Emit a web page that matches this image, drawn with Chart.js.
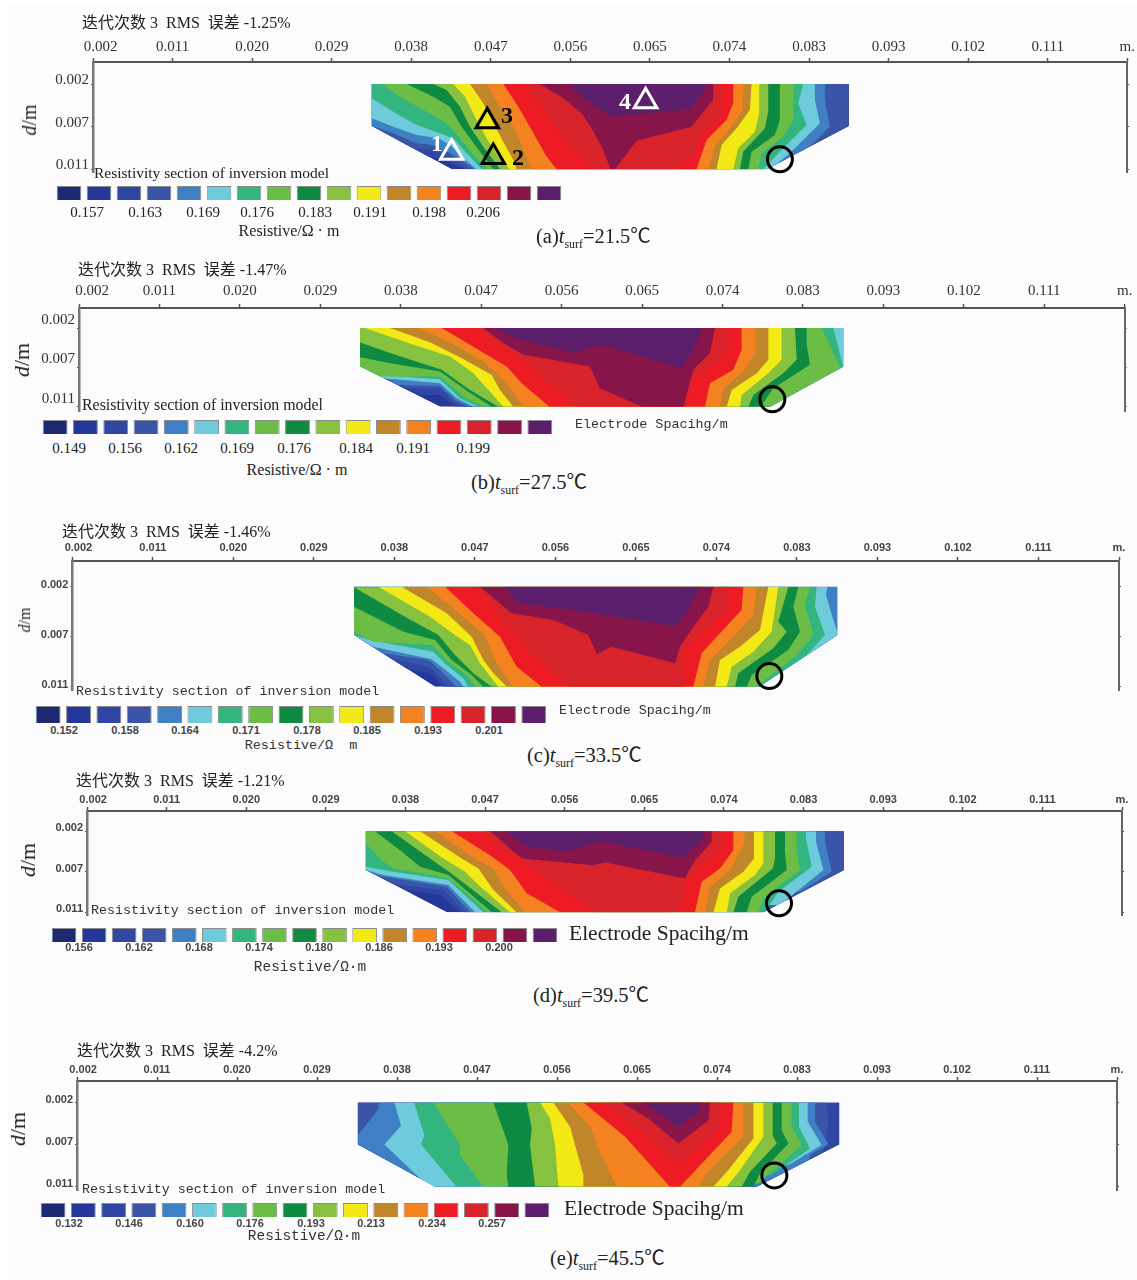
<!DOCTYPE html>
<html><head><meta charset="utf-8">
<script src="https://cdn.jsdelivr.net/npm/chart.js@4"></script>
<style>
html,body{margin:0;padding:0;background:#fff}
#page{position:relative;width:1137px;height:1280px;overflow:hidden}
#paper{position:absolute;left:8px;top:5px;right:0;bottom:0;background:#fcfcfc}
canvas{position:absolute}
.t{position:absolute;white-space:pre;line-height:1;color:#222}
.serif{font-family:"Liberation Serif","Noto Sans CJK SC",serif}
.mono{font-family:"Liberation Mono","DejaVu Sans Mono",monospace;color:#333}
.bold{font-family:"Liberation Sans",sans-serif;font-weight:700;color:#444}
sub{font-size:.58em;line-height:0}
</style></head><body><div id="page"><div id="paper"></div></div>
<script>
// ---------- data ----------
const xTickLabels = ['0.002','0.011','0.020','0.029','0.038','0.047','0.056','0.065','0.074','0.083','0.093','0.102','0.111','m.'];
const yTickLabels = ['0.002','0.007','0.011'];
const palette = ['#1d2a72','#24379a','#2f46a3','#3a55a8','#3f7fc4','#6ecbdc','#33b57f','#6cbd45','#0f8a42','#86c13f','#f2e916','#c2862a','#f58220','#ed1c24','#d8232a','#87154a','#5c1f6b'];

const legendA = ['0.157','0.163','0.169','0.176','0.183','0.191','0.198','0.206'];
const legendB = ['0.149','0.156','0.162','0.169','0.176','0.184','0.191','0.199'];
const legendC = ['0.152','0.158','0.164','0.171','0.178','0.185','0.193','0.201'];
const legendD = ['0.156','0.162','0.168','0.174','0.180','0.186','0.193','0.200'];
const legendE = ['0.132','0.146','0.160','0.176','0.193','0.213','0.234','0.257'];

// Nested resistivity regions: each list is one closed contour, as (along, down) pairs in
// section units (240 units = one electrode spacing). Region i and everything inside it is >= level i+1.
const bandsA = [
[0,0,1432,0,1432,126,1185,256,240,256,0,126],
[0,0,0,126,165,216,215,228,280,256,1432,256,1432,0],
[0,0,0,126,115,191,190,198,225,223,295,256,1432,256,1432,0],
[0,0,0,126,65,148,135,178,185,183,235,208,310,256,1245,256,1375,128,1360,48,1360,0],
[0,0,0,103,65,128,135,153,200,163,235,183,275,223,315,256,1195,256,1255,208,1345,118,1330,48,1330,0],
[0,0,0,43,65,83,135,123,205,148,245,163,285,208,330,256,1175,256,1225,203,1305,123,1280,58,1295,0],
[30,0,85,38,165,83,225,118,265,163,305,213,350,256,1160,256,1170,208,1235,158,1265,108,1265,0],
[105,0,185,38,235,68,270,128,310,183,365,256,1130,256,1140,203,1210,153,1225,108,1225,0],
[185,0,225,18,265,68,295,128,335,188,385,256,1105,256,1115,203,1180,133,1190,83,1190,0],
[245,0,280,38,310,98,345,163,380,218,415,256,1085,256,1100,193,1150,143,1163,88,1163,0],
[295,0,335,58,365,118,395,173,425,228,435,256,1035,256,1050,183,1095,133,1135,78,1140,0],
[345,0,385,68,425,128,450,183,480,256,1010,256,1030,183,1065,148,1113,78,1115,0],
[395,0,440,68,480,138,525,218,555,256,975,256,1005,168,1065,108,1085,58,1085,0],
[455,0,505,58,555,138,615,208,675,256,910,256,970,208,985,158,1050,88,1050,0],
[505,0,575,43,630,88,660,133,695,198,717,256,730,256,795,170,960,128,1000,78,1025,48,1025,0],
[595,0,630,38,717,98,835,88,955,76,1000,18,1000,0]
];
const bandsB = [
[0,0,1450,0,1450,115,1230,235,240,235,0,115],
[0,0,0,115,180,200,240,200,270,225,285,235,1450,235,1450,0],
[0,0,0,115,140,180,240,180,280,220,310,235,1450,235,1450,0],
[0,0,0,115,115,170,240,173,285,215,325,235,1450,235,1450,0],
[0,0,0,115,70,150,240,165,290,210,340,235,1450,235,1450,0],
[0,0,0,115,50,140,240,153,300,210,355,235,1300,235,1450,117,1420,0],
[0,0,0,115,60,145,240,145,310,205,370,235,1340,235,1440,117,1385,0],
[0,0,0,87,90,105,240,130,325,190,395,235,1202,235,1240,180,1350,110,1340,50,1340,0],
[0,0,0,43,90,75,245,125,330,185,415,235,1165,235,1180,200,1270,135,1310,95,1305,0],
[15,0,160,50,270,85,340,135,390,190,430,235,1140,235,1145,200,1225,135,1265,95,1265,0],
[90,0,215,45,305,90,350,115,395,140,420,185,460,235,1100,235,1115,185,1190,135,1225,95,1225,0],
[175,0,285,50,370,100,435,160,490,235,1080,235,1090,180,1150,130,1185,75,1185,0],
[245,0,330,50,440,115,485,165,568,235,1035,235,1050,165,1120,125,1145,65,1145,0],
[350,0,410,45,480,85,540,145,650,235,980,235,995,155,1065,105,1105,55,1105,0],
[370,0,430,45,490,80,690,115,720,180,845,235,970,235,1000,125,1050,75,1065,0],
[410,0,460,30,640,73,725,50,965,120,1000,65,1025,5,1025,0]
];
const bandsC = [
[0,0,1450,0,1450,145,1215,300,243,300,0,145],
[0,0,0,145,148,245,228,260,268,300,1450,300,1450,0],
[0,0,0,145,108,215,228,242,283,300,1450,300,1450,0],
[0,0,0,145,88,200,223,220,258,250,308,300,1450,300,1450,0],
[0,0,0,145,58,180,233,218,268,245,318,285,328,300,1248,300,1453,145,1438,100,1416,25,1420,0],
[0,0,0,145,38,158,238,195,278,235,328,275,343,300,1218,300,1358,205,1413,145,1383,60,1388,0],
[0,0,0,135,58,165,233,175,283,225,343,270,363,300,1208,300,1328,205,1378,145,1353,55,1368,0],
[0,0,0,60,148,135,243,160,293,220,353,265,388,300,1178,300,1193,265,1303,190,1338,135,1318,60,1333,0],
[0,2,153,90,253,145,303,205,358,260,413,300,1143,300,1153,260,1258,185,1298,135,1273,105,1303,0],
[73,0,228,90,303,145,348,175,378,230,433,300,1118,300,1133,240,1198,195,1253,135,1273,0],
[143,0,278,80,353,150,388,220,418,260,458,300,1083,300,1098,220,1158,180,1218,130,1243,0],
[218,0,328,90,393,145,423,220,478,300,1048,300,1068,220,1123,165,1198,85,1208,0],
[273,0,358,80,438,150,488,240,563,300,1018,300,1043,200,1098,140,1163,70,1168,0],
[368,0,413,55,478,140,558,230,648,300,988,300,993,185,1058,125,1118,70,1123,0],
[378,0,473,80,598,100,703,145,728,202,773,180,963,230,978,180,1018,120,1063,60,1078,0],
[453,0,488,50,598,62,963,118,1003,70,1038,0]
];
const bandsD = [
[0,0,1435,0,1435,117,1193,244,243,244,0,117],
[0,0,0,117,123,177,223,192,283,244,1435,244,1435,0],
[0,0,0,117,73,157,233,177,298,244,1435,244,1435,0],
[0,0,0,117,23,132,243,167,313,244,1303,182,1398,122,1378,32,1378,0],
[0,0,0,117,53,132,248,162,328,244,1243,222,1373,117,1351,32,1351,0],
[0,0,0,107,83,122,248,147,353,244,1198,244,1238,182,1338,107,1321,22,1321,0],
[0,0,0,37,53,92,83,112,173,127,248,142,368,244,1178,244,1198,197,1303,117,1293,62,1293,0],
[28,0,103,57,163,107,248,132,378,244,1143,244,1158,197,1263,117,1258,62,1258,0],
[78,0,193,82,263,132,408,244,1103,244,1118,197,1221,112,1228,82,1228,0],
[118,0,233,82,298,122,338,162,433,244,1083,244,1093,187,1168,132,1193,97,1193,0],
[163,0,288,82,338,112,383,177,453,244,1043,244,1063,172,1133,122,1165,82,1165,0],
[208,0,328,82,383,112,418,172,478,244,1018,244,1033,167,1093,117,1133,42,1138,0],
[258,0,373,72,433,117,483,187,583,244,988,244,1008,152,1063,112,1103,57,1103,0],
[353,0,403,52,468,85,553,150,688,244,913,244,953,222,963,147,1018,92,1068,52,1068,0],
[373,0,468,82,683,102,718,94,958,142,988,87,1038,32,1038,0],
[423,0,473,42,593,62,713,32,953,80,1013,22,1013,0]
];
const bandsE = [
[0,0,1445,0,1445,126,1197,253,232,253,0,126],
[0,0,1445,0,1445,126,1197,253,232,253,0,126],
[0,0,0,126,232,253,1370,253,1402,128,1412,68,1407,0],
[62,0,62,20,0,100,0,126,232,253,1340,253,1357,158,1412,126,1372,58,1372,0],
[110,0,130,70,80,126,182,223,232,268,1292,188,1392,128,1350,58,1350,0],
[169,0,200,98,190,126,297,253,1242,218,1357,138,1324,73,1324,0],
[227,0,307,128,307,158,377,253,1202,243,1332,128,1302,73,1302,0],
[407,0,452,128,447,218,452,253,1187,253,1207,213,1292,123,1272,83,1272,0],
[507,0,522,78,517,128,532,253,1152,253,1177,208,1257,123,1245,98,1245,0],
[547,0,577,48,592,128,602,253,1107,253,1147,203,1217,103,1217,0],
[587,0,637,73,652,128,677,218,677,253,1067,253,1112,203,1187,108,1187,0],
[632,0,702,78,722,138,777,253,1022,253,1047,213,1157,103,1157,0],
[677,0,802,103,937,253,967,253,1122,88,1127,0],
[732,0,852,88,962,183,1087,78,1087,0],
[792,0,872,48,962,123,1052,53,1057,0],
[857,0,962,73,1024,28,1024,0]
];
const circleA=[1225,226], circleB=[1237,213], circleC=[1246,268], circleD=[1240,217], circleE=[1250,219];
const whiteTrianglesA=[[240,206],[822,52]];
const blackTrianglesA=[[365,219],[347,112]];

// ---------- layout ----------
const panels = [
 {bands:bandsA,circle:circleA,axisY:62,x0:93,x13:1127.5,left:371.7,top:84,bottom:169.3,endY:172,wide:1432,deep:256,off:-4,skew:4,xPad:2,cls:'serif',
  legend:legendA,barX:57,barY:187,barH:12.5,barStep:30,lx:[87,145,203,257,315,370,429,483],ly:212,
  title:['迭代次数 3  RMS  误差 -1.25%',82,23,16],dm:[29,120,20],sec:['serif',94,173,15.5],res:['Resistive/Ω · m','serif',289,231,16],cap:['a','21.5',536,236],elec:null},
 {bands:bandsB,circle:circleB,axisY:308,x0:79,x13:1124.7,left:360,top:328,bottom:406.7,endY:411,wide:1450,deep:235,off:-8,skew:7,xPad:4,cls:'serif',
  legend:legendB,barX:43,barY:421,barH:12.5,barStep:30.3,lx:[69,125,181,237,294,356,413,473],ly:448,
  title:['迭代次数 3  RMS  误差 -1.47%',78,270,16],dm:[22,360,22],sec:['serif',82,405,15.9],res:['Resistive/Ω · m','serif',297,470,16],cap:['b','27.5',471,482],elec:['mono',575,425,13.4]},
 {bands:bandsC,circle:circleC,axisY:561,x0:72.3,x13:1119,left:354,top:586.7,bottom:686.7,endY:690,wide:1450,deep:300,off:-2,skew:2,xPad:2,cls:'bold',
  legend:legendC,barX:36,barY:707,barH:15,barStep:30.35,lx:[64,125,185,246,307,367,428,489],ly:730,
  title:['迭代次数 3  RMS  误差 -1.46%',62,532,16],dm:[25,620,16],sec:['mono',76,692,13.3],res:['Resistive/Ω  m','mono',301,746,13.4],cap:['c','33.5',527,755],elec:['mono',559,711,13.3]},
 {bands:bandsD,circle:circleD,axisY:810.7,x0:87,x13:1122,left:365.7,top:831,bottom:912.3,endY:915,wide:1435,deep:244,off:-3,skew:2,xPad:0,cls:'bold',
  legend:legendD,barX:51.7,barY:928.7,barH:12,barStep:30.04,lx:[79,139,199,259,319,379,439,499],ly:947,
  title:['迭代次数 3  RMS  误差 -1.21%',76,781,16],dm:[28,860,22],sec:['mono',91,911,13.3],res:['Resistive/Ω·m','mono',310,967,14.4],cap:['d','39.5',533,995],elec:['serif',569,934,21.5]},
 {bands:bandsE,circle:circleE,axisY:1080.7,x0:77,x13:1117,left:357.7,top:1102.3,bottom:1186.7,endY:1190,wide:1445,deep:253,off:-3,skew:2,xPad:0,cls:'bold',
  legend:legendE,barX:41,barY:1204,barH:12,barStep:30.26,lx:[69,129,190,250,311,371,432,492],ly:1223,
  title:['迭代次数 3  RMS  误差 -4.2%',77,1051,16],dm:[18,1129,22],sec:['mono',82,1190,13.3],res:['Resistive/Ω·m','mono',304,1236,14.4],cap:['e','45.5',550,1258],elec:['serif',564,1209,21.5]}
];
const page=document.getElementById('page');
function text(html,x,y,cls,size,center){
  const d=document.createElement('div');d.className='t '+cls;d.innerHTML=html;
  d.style.left=x+'px';d.style.top=y+'px';d.style.fontSize=size+'px';
  d.style.transform=center?'translate(-50%,-50%)':'translateY(-50%)';
  page.appendChild(d);return d;
}
// fills each nested contour using the pixel positions the chart's scales computed
const sectionFill={id:'sectionFill',beforeDatasetsDraw(chart){
  const c=chart.ctx;
  const path=(pts)=>{c.beginPath();pts.forEach((p,i)=>i?c.lineTo(p.x,p.y):c.moveTo(p.x,p.y));c.closePath();};
  const outline=chart.getDatasetMeta(0).data;
  c.save();path(outline);c.clip();
  chart.data.datasets.forEach((ds,i)=>{
    if(!ds.isBand)return;
    path(chart.getDatasetMeta(i).data);c.fillStyle=ds.bandColor;c.fill();
  });
  c.restore();
}};
panels.forEach(p=>{
  const step=(p.x13-p.x0)/13, cellY=(p.bottom-p.top)/2;
  const toX=u=>(p.left-p.x0)/step+(u/3)/step;
  const toY=v=>(v/p.deep)*2;
  const pair=a=>({x:toX(a[0]),y:toY(a[1])});
  const datasets=p.bands.map((flat,i)=>{
    const pts=[];for(let k=0;k<flat.length;k+=2)pts.push(pair([flat[k],flat[k+1]]));
    return {isBand:true,bandColor:palette[i+1],data:pts,showLine:false,pointRadius:0,pointHoverRadius:0};
  });
  datasets.push({data:[pair(p.circle)],clip:false,showLine:false,pointStyle:'circle',pointRadius:12.5,borderColor:'#000',borderWidth:3,backgroundColor:'rgba(0,0,0,0)'});
  if(p.bands===bandsA){
    datasets.push({data:whiteTrianglesA.map(pair),clip:false,showLine:false,pointStyle:'triangle',pointRadius:13,borderColor:'#fff',borderWidth:3,backgroundColor:'rgba(0,0,0,0)'});
    datasets.push({data:blackTrianglesA.map(pair),clip:false,showLine:false,pointStyle:'triangle',pointRadius:13,borderColor:'#000',borderWidth:3,backgroundColor:'rgba(0,0,0,0)'});
  }
  const cv=document.createElement('canvas');
  const topPx=p.axisY-46, h=p.endY-topPx+16;
  cv.width=1137;cv.height=h;cv.style.left='0';cv.style.top=topPx+'px';
  page.appendChild(cv);
  const font=p.cls==='serif'?{family:'"Liberation Serif",serif',size:15,weight:'normal'}:{family:'"Liberation Sans",sans-serif',size:11,weight:'bold'};
  const tickColor=p.cls==='serif'?'#333':'#444';
  const yMin=-(p.top-p.axisY)/cellY, yMax=2+(p.endY-p.bottom)/cellY;
  const yTicks=s=>{s.ticks=[0,1,2].map(v=>({value:v}));};
  new Chart(cv,{type:'scatter',data:{datasets},plugins:[sectionFill],options:{
    responsive:false,animation:false,events:[],
    layout:{autoPadding:false,padding:{left:0,top:0,right:1137-p.x13-4,bottom:16}},
    plugins:{legend:{display:false},tooltip:{enabled:false}},
    scales:{
      x:{type:'linear',position:'top',min:0,max:13,
        afterBuildTicks:s=>{s.ticks=xTickLabels.map((_,i)=>({value:i}));},
        afterFit:s=>{s.height=46;},
        border:{color:'#555',width:2},
        grid:{drawOnChartArea:false,tickLength:4,color:'#555',tickWidth:1.5},
        ticks:{autoSkip:false,maxRotation:0,color:tickColor,font,padding:p.xPad,
          callback:(v,i)=>(i===0?' '.repeat(p.cls==='serif'?p.skew:p.skew*2):'')+xTickLabels[i]}},
      y:{type:'linear',reverse:true,min:yMin,max:yMax,
        afterBuildTicks:yTicks,afterFit:s=>{s.width=p.x0;},
        border:{color:'#777',width:2.5},
        grid:{drawOnChartArea:false,tickLength:2,color:'#555',tickWidth:1},
        ticks:{color:tickColor,font,padding:2,labelOffset:p.off,callback:(v,i)=>yTickLabels[i]}},
      y2:{type:'linear',position:'right',reverse:true,min:yMin,max:yMax,
        afterBuildTicks:yTicks,afterFit:s=>{s.width=4;},
        border:{color:'#666',width:2},
        grid:{drawOnChartArea:false,tickLength:2,color:'#555',tickWidth:1},
        ticks:{display:false}}
    }}});
  // colour key
  const swatch=document.createElement('canvas');
  swatch.width=Math.round(p.barStep*17);swatch.height=p.barH+2;
  swatch.style.left=(p.barX-p.barStep*0.09)+'px';swatch.style.top=(p.barY-1)+'px';
  page.appendChild(swatch);
  new Chart(swatch,{type:'bar',data:{labels:palette.map((_,i)=>i+1),datasets:[{data:palette.map(()=>1),backgroundColor:palette,borderColor:'#8a8a8a',borderWidth:1,categoryPercentage:0.82,barPercentage:1}]},
    options:{responsive:false,animation:false,events:[],plugins:{legend:{display:false},tooltip:{enabled:false}},
      scales:{x:{display:false},y:{display:false,min:0,max:1}}}});
  p.legend.forEach((l,i)=>text(l,p.lx[i],p.ly,p.cls==='serif'?'serif':'bold',p.cls==='serif'?15:11,true));
  text(p.title[0],p.title[1],p.title[2],'serif',p.title[3]);
  text('<i>d</i>/m',p.dm[0],p.dm[1],'serif',p.dm[2],true).style.transform='translate(-50%,-50%) rotate(-90deg)';
  text('Resistivity section of inversion model',p.sec[1],p.sec[2],p.sec[0],p.sec[3]);
  text(p.res[0],p.res[2],p.res[3],p.res[1],p.res[4],true);
  text('('+p.cap[0]+')<i>t</i><sub>surf</sub>='+p.cap[1]+'℃',p.cap[2],p.cap[3],'serif',20.5);
  if(p.elec)text('Electrode Spacihg/m',p.elec[1],p.elec[2],p.elec[0],p.elec[3]);
});
[['1',437,143,'#fff'],['2',518,157,'#000'],['3',507,115,'#000'],['4',625,101,'#fff']].forEach(n=>{
  const d=text(n[0],n[1],n[2],'serif',24,true);d.style.color=n[3];d.style.fontWeight='700';
});
</script></body></html>
